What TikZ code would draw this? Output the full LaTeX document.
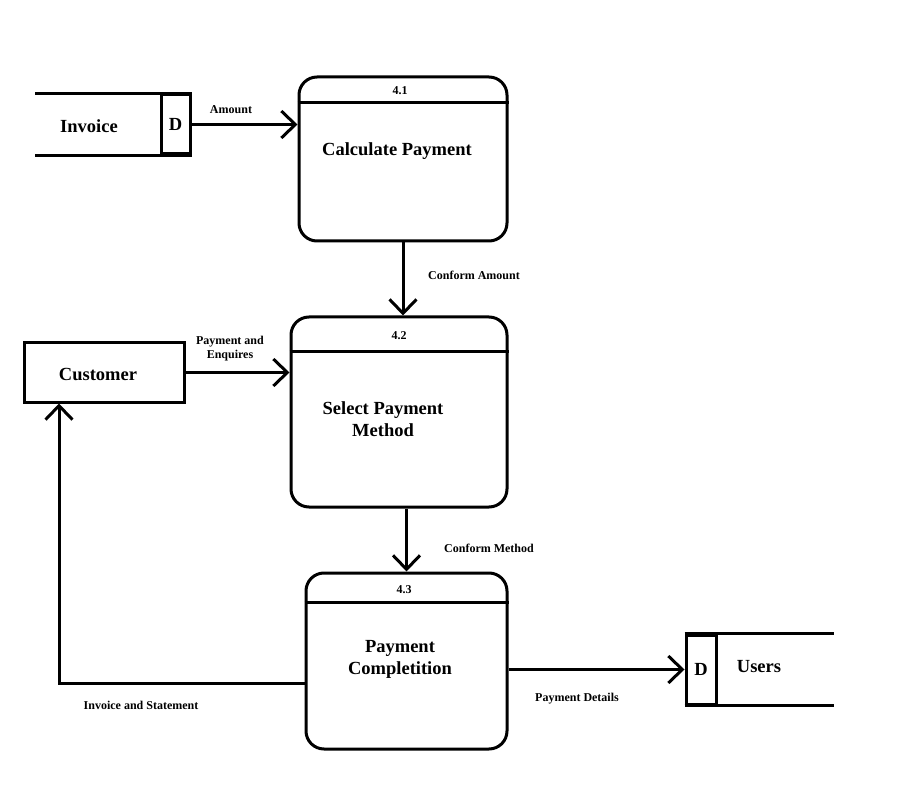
\documentclass[tikz,border=0pt]{standalone}
\usepackage{fontspec}
\setmainfont{Liberation Serif}
\usetikzlibrary{arrows.meta,positioning,shapes}
\tikzset{proc/.style={draw,line width=3pt,rounded corners=18pt},
         box/.style={draw,line width=3pt},
         big/.style={font=\fontsize{18.5}{22}\selectfont\bfseries,align=center},
         small/.style={font=\fontsize{12}{14}\selectfont\bfseries,align=center},
         flow/.style={line width=3pt,-{Straight Barb[length=14pt,width=27pt,line width=3pt]}}}

\begin{document}
\begin{tikzpicture}[x=1pt,y=-1pt]
\useasboundingbox (0,0) rectangle (916,786);

% processes
\node[proc,minimum width=208pt,minimum height=164pt] (calc) at (403,159) {};
\node[proc,minimum width=216pt,minimum height=190pt] (sel) at (399,412) {};
\node[proc,minimum width=201pt,minimum height=176pt] (compl) at (406.5,661) {};

\foreach \p/\h in {calc/27,sel/36,compl/31}
{
\draw[line width=3pt] ([yshift=-\h pt]\p.north west) -- ([yshift=-\h pt]\p.north east);
}

\node[small] (calcno) at (400,91) {4.1};
\node[small] (selno) at (399,336) {4.2};
\node[small] (complno) at (404,590) {4.3};

\node[big] (calctxt) at (397,151) {Calculate Payment};
\node[big] (seltxt) at (383,419) {Select Payment\\Method};
\node[big] (compltxt) at (400,659) {Payment\\Completition};

% entity and data stores
\node[box,minimum width=160pt,minimum height=59pt] (cust) at (104,372.5) {};
\node[big] (custtxt) at (98,374) {Customer};

\node[box,big,minimum width=29pt,minimum height=59pt,inner sep=0pt] (invD) at (175.5,124.5) {D};
\draw[line width=3pt] (invD.north east) -- ++(-157,0);
\draw[line width=3pt] (invD.south east) -- ++(-157,0);
\node[big] (invtxt) at (89,126) {Invoice};

\node[box,big,minimum width=30pt,minimum height=69pt,inner sep=0pt] (usrD) at (701,669.5) {D};
\draw[line width=3pt] (usrD.north west) -- ++(149,0);
\draw[line width=3pt] (usrD.south west) -- ++(149,0);
\node[big] (usrtxt) at (759,667) {Users};

% flows
\draw[flow] (invD.east) -- (invD.east -| calc.west);
\node[small] (amt) at (231,110) {Amount};

\draw[flow] (calc.south) -- (calc.south |- sel.north);
\node[small] (confamt) at (474,275) {Conform Amount};

\draw[flow] (cust.east) -- (cust.east -| sel.west);
\node[small] (payenq) at (230,349) {Payment and\\Enquires};

\draw[flow] (compl.north |- sel.south) -- (compl.north);
\node[small] (confmeth) at (489,548) {Conform Method};

\draw[flow] ([yshift=-22pt]compl.west) -| ([xshift=-45pt]cust.south);
\node[small] (invst) at (141,705) {Invoice and Statement};

\draw[flow] (compl.east |- usrD.west) -- (usrD.west);
\node[small] (paydet) at (577,699) {Payment Details};

\end{tikzpicture}
\end{document}
